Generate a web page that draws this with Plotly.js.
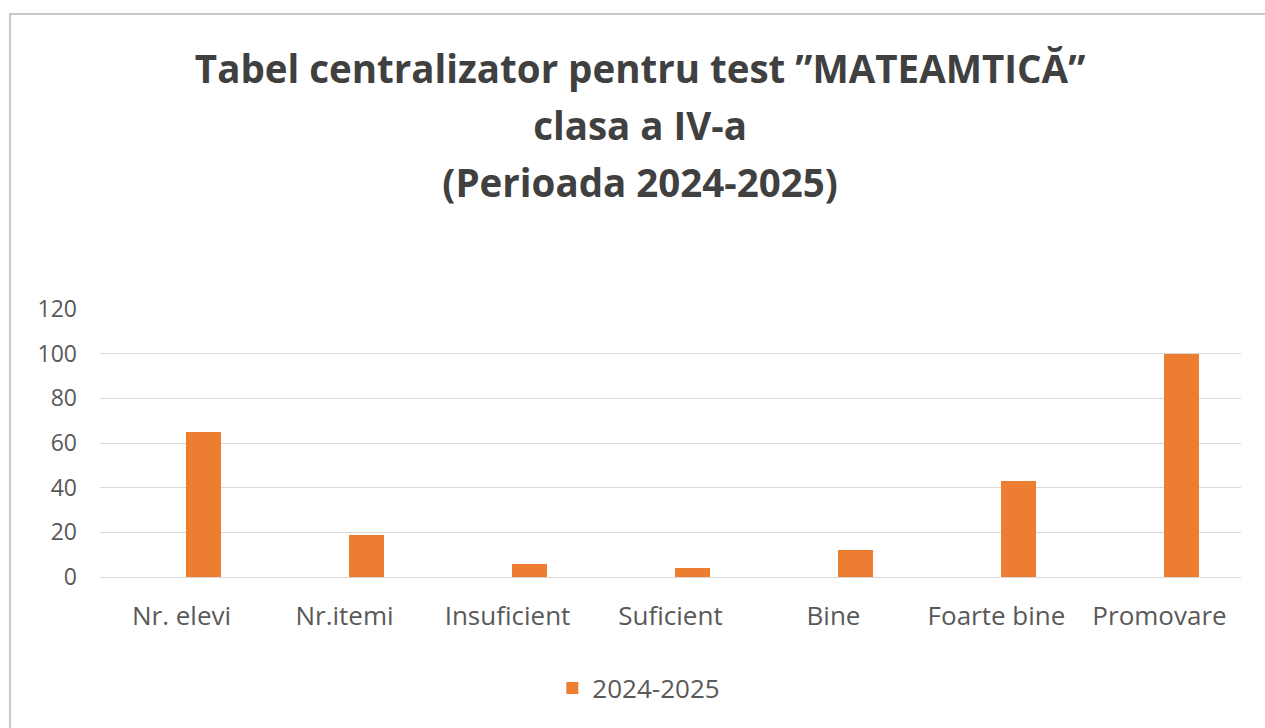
<!DOCTYPE html>
<html>
<head>
<meta charset="utf-8">
<script src="https://cdn.plot.ly/plotly-3.0.1.min.js"></script>
<style>
  html, body { margin: 0; padding: 0; background: #ffffff; }
  #chart { position: absolute; left: 0; top: 0; width: 1265px; height: 728px; }
  #frame { position: absolute; left: 9px; top: 13px; width: 1270px; height: 730px;
           border-top: 2px solid #c9c9c9; border-left: 2px solid #c9c9c9; pointer-events: none; }
</style>
</head>
<body>
<div id="chart"></div>
<div id="frame"></div>
<script>
const categories = ["Nr. elevi", "Nr.itemi", "Insuficient", "Suficient", "Bine", "Foarte bine", "Promovare"];
const values = [65, 19, 6, 4, 12, 43, 100];
const seriesName = "2024-2025";
const titleLines = ["Tabel centralizator pentru test \u201DMATEAMTIC\u0102\u201D", "clasa a IV-a", "(Perioada 2024-2025)"];
const yTicks = [0, 20, 40, 60, 80, 100, 120];

const FONT = "'Open Sans', 'Noto Sans', sans-serif";

const trace = {
  type: "bar",
  x: categories,
  y: values,
  name: seriesName,
  width: 0.21,
  offset: 0.03,
  marker: { color: "#ED7D31", line: { width: 0 } },
  showlegend: true,
  hoverinfo: "x+y"
};

const layout = {
  width: 1265,
  height: 728,
  paper_bgcolor: "rgba(0,0,0,0)",
  plot_bgcolor: "rgba(0,0,0,0)",
  margin: { l: 100, r: 24, t: 309, b: 151, pad: 0 },
  font: { family: FONT, color: "#595959" },
  title: {
    text: titleLines.map(s => '<span style="font-size:38.5px">' + s + '</span>').join("<br>"),
    font: { family: FONT, size: 44, color: "#404040", weight: "bold" },
    x: 0.506,
    xref: "container",
    xanchor: "center",
    y: 1 - 83 / 728,
    yref: "container",
    yanchor: "top"
  },
  xaxis: {
    type: "category",
    range: [-0.5, 6.5],
    showgrid: false,
    showline: false,
    zeroline: false,
    ticks: "",
    tickfont: { family: FONT, size: 26, color: "#595959" },
    ticklabelstandoff: 21
  },
  yaxis: {
    range: [0, 120],
    tickvals: yTicks,
    ticktext: yTicks.map(String),
    showgrid: true,
    gridcolor: "#d9d9d9",
    gridwidth: 1,
    zeroline: true,
    zerolinecolor: "#d9d9d9",
    zerolinewidth: 1,
    showline: false,
    ticks: "",
    tickfont: { family: FONT, size: 23, color: "#595959" },
    ticklabelstandoff: 22
  },
  showlegend: true,
  legend: {
    orientation: "h",
    x: 0.505,
    xref: "container",
    xanchor: "center",
    y: 1 - 688 / 728,
    yref: "container",
    yanchor: "middle",
    font: { family: FONT, size: 26, color: "#595959" },
    bgcolor: "rgba(0,0,0,0)"
  },
  bargap: 0
};

Plotly.newPlot("chart", [trace], layout, { displayModeBar: false, staticPlot: true });
</script>
</body>
</html>
